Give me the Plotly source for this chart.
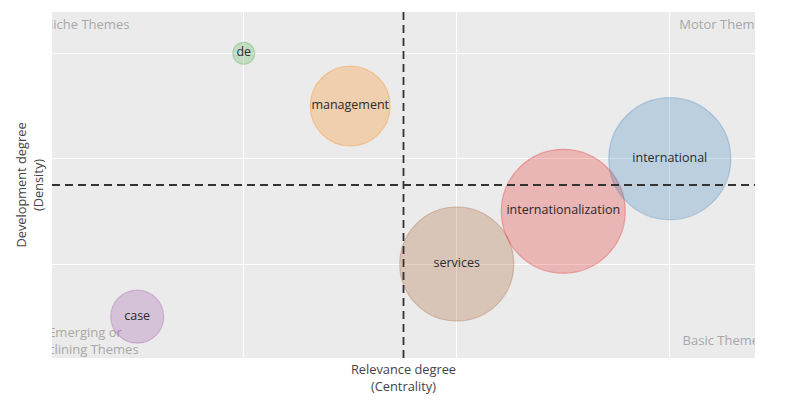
import plotly.graph_objects as go

# Themes (clusters) with centrality rank (x), density rank (y) and bubble size
themes = ["case", "de", "management", "services", "internationalization", "international"]
centrality = [1, 2, 3, 4, 5, 6]
density = [1, 6, 5, 2, 3, 4]
bubble_size = [53, 22, 80, 114, 124, 122]
colors = ["#984EA3", "#4DAF4A", "#FF7F00", "#A65628", "#E41A1C", "#377EB8"]

# Quadrant labels
quad_labels = ["Niche Themes", "Motor Themes", "Emerging or<br>Declining Themes", "Basic Themes"]
quad_x = [0.12, 6.09, 0.51, 6.12]
quad_y = [6.53, 6.53, 0.52, 0.52]
quad_pos = ["middle right", "middle right", "middle center", "middle right"]

x_mid = 3.5
y_mid = 3.5


def rgba(hex_color, a):
    h = hex_color.lstrip("#")
    r, g, b = int(h[0:2], 16), int(h[2:4], 16), int(h[4:6], 16)
    return f"rgba({r},{g},{b},{a})"


fig = go.Figure()

fig.add_trace(go.Scatter(
    x=quad_x, y=quad_y, mode="text", text=quad_labels,
    textposition=quad_pos, cliponaxis=True, hoverinfo="skip",
    textfont=dict(family="Open Sans", size=13, color="#a8a8a8"),
    showlegend=False,
))

for name, xv, yv, s, c in zip(themes, centrality, density, bubble_size, colors):
    fig.add_trace(go.Scatter(
        x=[xv], y=[yv], mode="markers+text", text=[name],
        textposition="middle center", cliponaxis=True,
        marker=dict(size=s, sizemode="diameter", color=rgba(c, 0.26),
                    line=dict(color=rgba(c, 0.3), width=1.2)),
        textfont=dict(family="Open Sans", size=12.5, color="#2b2b2b"),
        showlegend=False, name=name,
    ))

fig.add_shape(type="line", xref="x", yref="paper", x0=x_mid, x1=x_mid, y0=0, y1=1,
              line=dict(color="#333333", width=1.8, dash="8px,5px"), layer="above")
fig.add_shape(type="line", xref="paper", yref="y", x0=0, x1=1, y0=y_mid, y1=y_mid,
              line=dict(color="#333333", width=1.8, dash="8px,5px"), layer="above")

fig.update_layout(
    width=803, height=400,
    margin=dict(l=44, r=56, t=4, b=50),
    paper_bgcolor="white", plot_bgcolor="#EBEBEB",
    font=dict(family="Open Sans", color="#444444"),
    showlegend=False,
)
fig.update_xaxes(
    range=[0.2, 6.8], tickvals=[2, 4, 6], showticklabels=False, ticks="",
    showgrid=True, gridcolor="white", gridwidth=1, zeroline=False,
    title=dict(text="Relevance degree<br>(Centrality)", font=dict(size=12.8, color="#444444"), standoff=7),
)
fig.update_yaxes(
    range=[0.215, 6.785], tickvals=[2, 4, 6], showticklabels=False, ticks="",
    showgrid=True, gridcolor="white", gridwidth=1, zeroline=False,
    title=dict(text="Development degree<br>(Density)", font=dict(size=12.8, color="#444444"), standoff=4),
)

fig.write_html("out.html")
